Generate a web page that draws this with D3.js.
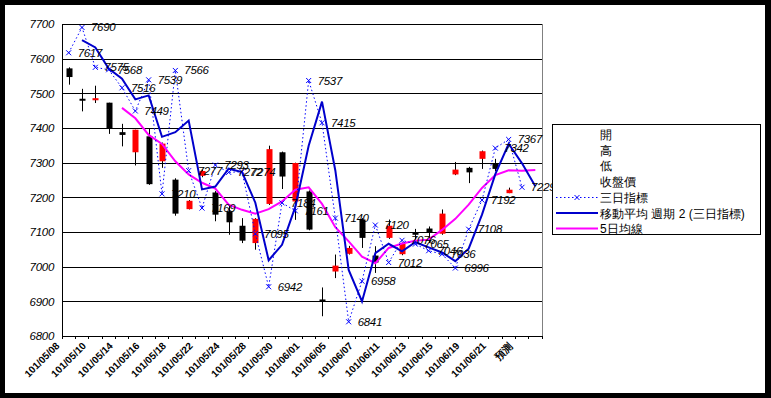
<!DOCTYPE html>
<html><head><meta charset="utf-8">
<script src="https://cdn.jsdelivr.net/npm/d3@7"></script>
<style>
body{margin:0;padding:0;background:#fff;}
svg{display:block;}
text{font-family:"Liberation Sans",Arial,sans-serif;}
</style></head>
<body><svg id="chart" width="771" height="398"></svg>
<script>
const categories = ["101/05/08","101/05/09","101/05/10","101/05/11","101/05/14","101/05/15","101/05/16","101/05/17","101/05/18","101/05/21","101/05/22","101/05/23","101/05/24","101/05/25","101/05/28","101/05/29","101/05/30","101/05/31","101/06/01","101/06/04","101/06/05","101/06/06","101/06/07","101/06/08","101/06/11","101/06/12","101/06/13","101/06/14","101/06/15","101/06/18","101/06/19","101/06/20","101/06/21","101/06/22","預測",""];
const openP  = [7572,7484,7480,7473,7388,7330,7376,7304,7251,7166,7262,7214,7160,7118,7068,7181,7330,7188,7217,6905,6986,7037,7136,7032,7083,7036,7100,7110,7095,7266,7285,7311,7299,7212,null,null];
const highP  = [7575,7513,7522,7473,7412,7395,7400,7358,7255,7192,7280,7218,7180,7140,7140,7349,7332,7300,7220,6940,7035,7060,7140,7059,7136,7070,7109,7116,7165,7302,7288,7335,7311,7228,null,null];
const lowP   = [7525,7448,7472,7383,7347,7292,7236,7285,7147,7165,7258,7131,7092,7068,7049,7178,7224,7135,7105,6857,6967,7035,7054,6982,7080,7033,7078,7068,7092,7264,7241,7282,7275,7212,null,null];
const closeP = [7547,7479,7486,7400,7380,7395,7238,7355,7153,7190,7276,7150,7128,7075,7138,7339,7260,7299,7107,6900,7003,7054,7083,7012,7118,7068,7092,7098,7153,7280,7272,7333,7282,7222,null,null];
const threeDay = [7617,7690,7575,7568,7516,7449,7539,7210,7566,7277,7169,7293,7272,7274,7095,6942,7184,7161,7537,7415,7140,6841,6958,7120,7012,7076,7065,7046,7036,6996,7108,7192,7342,7367,7229,null];
const movAvg2 = [null,7653.5,7632.5,7571.5,7542,7482.5,7494,7374.5,7388,7421.5,7223,7231,7282.5,7273,7184.5,7018.5,7063,7172.5,7349,7476,7277.5,6990.5,6899.5,7039,7066,7044,7070.5,7055.5,7041,7016,7052,7150,7267,7354.5,7298,7232];
const ma5 = [null,null,null,null,7458,7428,7380,7354,7304,7266,7242,7225,7179,7164,7153,7166,7188,7222,7229,7181,7114,7073,7029,7010,7054,7067,7075,7078,7106,7138,7179,7227,7264,7278,7277,7279];
const yTicks = [6800,6900,7000,7100,7200,7300,7400,7500,7600,7700];
const legendLabels = ["開","高","低","收盤價","三日指標","移動平均 週期 2 (三日指標)","5日均線"];

const svg = d3.select("#chart");
svg.append("rect").attr("x",0).attr("y",0).attr("width",771).attr("height",398).attr("fill","#000");
svg.append("rect").attr("x",5).attr("y",5).attr("width",760).attr("height",388).attr("fill","#fff");

const L=62, R=542, T=24, B=336;
const idx = d3.range(categories.length);
const x = d3.scaleBand().domain(idx).range([L,R]).padding(0);
const cx = i => x(i) + x.bandwidth()/2;
const y = d3.scaleLinear().domain([6800,7700]).range([B,T]);

// gridlines
const grid = svg.append("g").attr("transform",`translate(${L},0)`)
  .call(d3.axisLeft(y).tickValues(yTicks).tickSize(-(R-L)).tickFormat(""));
grid.select(".domain").remove();
grid.selectAll("line").attr("stroke","#000").attr("stroke-width",1).attr("shape-rendering","crispEdges");
// plot border right
svg.append("line").attr("x1",R).attr("x2",R).attr("y1",T).attr("y2",B).attr("stroke","#808080").attr("shape-rendering","crispEdges");

// y axis
const ya = svg.append("g").attr("transform",`translate(${L},0)`)
  .call(d3.axisLeft(y).tickValues(yTicks).tickSize(0).tickPadding(8).tickFormat(d3.format("d")));
ya.select(".domain").attr("stroke","#000").attr("shape-rendering","crispEdges");
ya.selectAll("text").attr("font-size","11.5px").attr("font-style","italic").attr("fill","#000").attr("letter-spacing","-0.3px");

// x axis
const xa = svg.append("g").attr("transform",`translate(0,${B})`)
  .call(d3.axisBottom(x).tickValues(idx.filter(i=>i%2===0)).tickSize(0).tickFormat(i=>categories[i]));
xa.select(".domain").attr("stroke","#000").attr("shape-rendering","crispEdges");
xa.selectAll("text").attr("font-size","10px").attr("font-weight","bold").attr("fill","#000")
  .attr("text-anchor","end").attr("dy","0.35em")
  .attr("transform",function(){ return `translate(-11,8) rotate(-45)`; })
  .attr("y",0).attr("x",0);
// category boundary ticks
svg.append("g").selectAll("line").data(d3.range(categories.length+1)).join("line")
  .attr("x1",i=> i<categories.length ? x(i) : R).attr("x2",i=> i<categories.length ? x(i) : R)
  .attr("y1",B).attr("y2",B+3).attr("stroke","#000").attr("shape-rendering","crispEdges");

// candles
const cw = 6;
const cIdx = idx.filter(i=>openP[i]!=null);
svg.append("g").selectAll("line").data(cIdx).join("line")
  .attr("x1",i=>Math.round(cx(i))+0.5).attr("x2",i=>Math.round(cx(i))+0.5)
  .attr("y1",i=>y(highP[i])).attr("y2",i=>y(lowP[i])).attr("stroke","#000").attr("stroke-width",1);
svg.append("g").selectAll("rect").data(cIdx).join("rect")
  .attr("x",i=>Math.round(cx(i))+0.5-cw/2)
  .attr("width",cw)
  .attr("y",i=>{const t=y(Math.max(openP[i],closeP[i])), b=y(Math.min(openP[i],closeP[i])); return (b-t<2)?(t+b)/2-1:t;})
  .attr("height",i=>Math.max(2, Math.abs(y(openP[i])-y(closeP[i]))))
  .attr("fill",i=> closeP[i]>=openP[i] ? "#ff0000" : "#000");

// 5-day MA
svg.append("path").datum(idx.filter(i=>ma5[i]!=null))
  .attr("d",d3.line().x(i=>cx(i)).y(i=>y(ma5[i])))
  .attr("fill","none").attr("stroke","#ff00ff").attr("stroke-width",2);

// three-day indicator dotted
const tIdx = idx.filter(i=>threeDay[i]!=null);
svg.append("path").datum(tIdx)
  .attr("d",d3.line().x(i=>cx(i)).y(i=>y(threeDay[i])))
  .attr("fill","none").attr("stroke","#0000ff").attr("stroke-width",1).attr("stroke-dasharray","1.5,2.5");
// moving average line
svg.append("path").datum(idx.filter(i=>movAvg2[i]!=null))
  .attr("d",d3.line().x(i=>cx(i)).y(i=>y(movAvg2[i])))
  .attr("fill","none").attr("stroke","#0000cc").attr("stroke-width",2);
// x markers
const mk = svg.append("g");
tIdx.forEach(i=>{
  const px=cx(i), py=y(threeDay[i]), s=2.5;
  mk.append("path").attr("d",`M${px-s},${py-s}L${px+s},${py+s}M${px-s},${py+s}L${px+s},${py-s}`)
    .attr("stroke","#0000ff").attr("stroke-width",1).attr("fill","none");
});
// data labels
svg.append("g").selectAll("text").data(tIdx).join("text")
  .attr("x",i=>cx(i)+9).attr("y",i=>y(threeDay[i])).attr("dy","0.35em")
  .attr("font-size","11.5px").attr("font-style","italic").attr("letter-spacing","-0.3px").attr("fill","#000")
  .text(i=>threeDay[i]);

// legend
const lg = svg.append("g");
lg.append("rect").attr("x",552.5).attr("y",124.5).attr("width",208).attr("height",110)
  .attr("fill","#fff").attr("stroke","#000").attr("stroke-width",1);
const rowY = [134,150,165,181,197.5,213,228.5];
lg.selectAll("text").data(legendLabels).join("text")
  .attr("x",600).attr("y",(d,i)=>rowY[i]).attr("dy","0.38em")
  .attr("font-family","'Noto Sans CJK TC','Noto Sans CJK SC',sans-serif").attr("font-size","12px").attr("fill","#000")
  .text(d=>d);
lg.append("line").attr("x1",556).attr("x2",598).attr("y1",rowY[4]).attr("y2",rowY[4])
  .attr("stroke","#0000ff").attr("stroke-dasharray","1.5,2.5");
lg.append("path").attr("d",`M${574.5},${rowY[4]-2.5}L${579.5},${rowY[4]+2.5}M${574.5},${rowY[4]+2.5}L${579.5},${rowY[4]-2.5}`)
  .attr("stroke","#0000ff").attr("fill","none");
lg.append("line").attr("x1",556).attr("x2",598).attr("y1",rowY[5]).attr("y2",rowY[5])
  .attr("stroke","#0000cc").attr("stroke-width",2);
lg.append("line").attr("x1",556).attr("x2",598).attr("y1",rowY[6]).attr("y2",rowY[6])
  .attr("stroke","#ff00ff").attr("stroke-width",2);
</script></body></html>
